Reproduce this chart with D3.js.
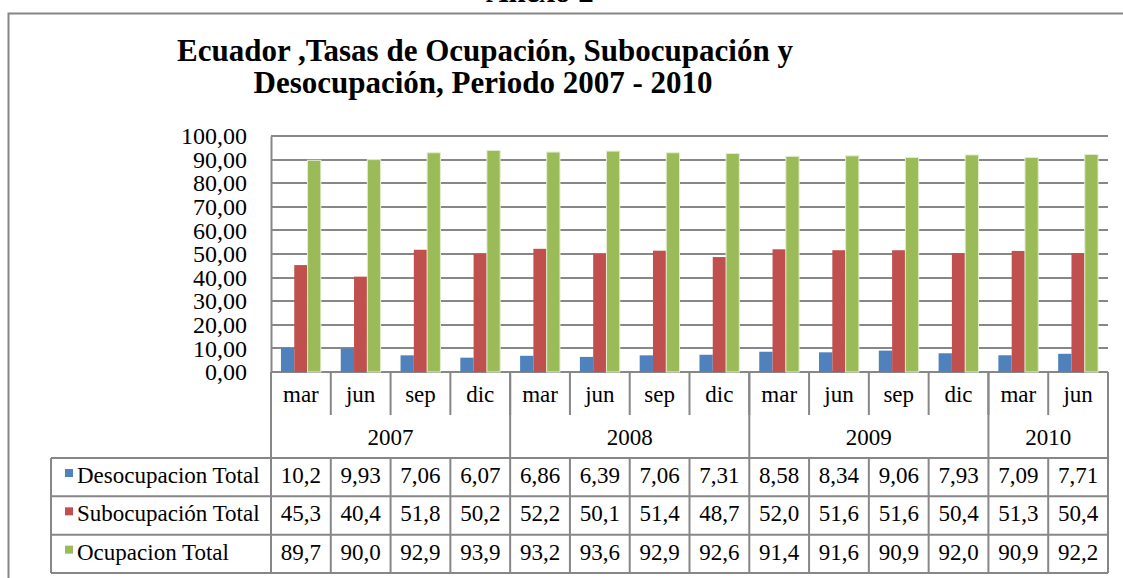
<html>
<head>
<meta charset="utf-8">
<title>Ecuador tasas</title>
<style>
  body { margin: 0; background: #fff; }
  text { font-family: "Liberation Serif", "Times New Roman", serif; fill: #000; }
</style>
</head>
<body>
<script src="https://d3js.org/d3.v7.min.js"></script>
<script>

// datos
var months = ["mar", "jun", "sep", "dic", "mar", "jun", "sep", "dic", "mar", "jun", "sep", "dic", "mar", "jun"];
var years = ["2007", "2008", "2009", "2010"];
var monthsPerYear = [4, 4, 4, 2];
var seriesNames = ["Desocupacion Total", "Subocupación Total", "Ocupacion Total"];
var desocupacion = [10.2, 9.93, 7.06, 6.07, 6.86, 6.39, 7.06, 7.31, 8.58, 8.34, 9.06, 7.93, 7.09, 7.71];
var subocupacion = [45.3, 40.4, 51.8, 50.2, 52.2, 50.1, 51.4, 48.7, 52.0, 51.6, 51.6, 50.4, 51.3, 50.4];
var ocupacion = [89.7, 90.0, 92.9, 93.9, 93.2, 93.6, 92.9, 92.6, 91.4, 91.6, 90.9, 92.0, 90.9, 92.2];
var yTicks = [0, 10, 20, 30, 40, 50, 60, 70, 80, 90, 100];
var colors = ["#4f81bd", "#c0504d", "#9bbb59"];

var series = [desocupacion, subocupacion, ocupacion];

var locale = d3.formatLocale({decimal: ",", thousands: ".", grouping: [3], currency: ["", ""]});
var fmtTick = locale.format(".2f");
var fmtVal = locale.format(".3r");

var W = 1123, H = 578;
var plotLeft = 271, plotRight = 1108, plotTop = 136, plotBottom = 372;
var gridColor = "#878787";

var svg = d3.select("body").append("svg")
    .attr("width", W)
    .attr("height", H);

// marco exterior
svg.append("path")
    .attr("d", "M8.5," + H + "V13.5H" + W)
    .attr("fill", "none")
    .attr("stroke", "#868686")
    .attr("stroke-width", 2);

svg.append("text")
    .attr("x", 486).attr("y", 2)
    .style("font-size", "31px").style("font-weight", "bold")
    .text("Anexo 2");

// titulo
var title = svg.append("text")
    .attr("text-anchor", "middle")
    .style("font-size", "31px").style("font-weight", "bold");
title.append("tspan").attr("x", 485).attr("y", 61).text("Ecuador ,Tasas de Ocupación, Subocupación y");
title.append("tspan").attr("x", 483).attr("y", 93).text("Desocupación, Periodo 2007 - 2010");

var x = d3.scaleBand()
    .domain(d3.range(months.length))
    .range([plotLeft, plotRight]);

var cw = x.bandwidth();
var barW = cw / 4.5;
var xs = d3.scaleBand()
    .domain(d3.range(series.length))
    .range([barW * 0.75, cw - barW * 0.75]);

var y = d3.scaleLinear()
    .domain([0, 100])
    .range([plotBottom, plotTop]);

// lineas de division
svg.append("g")
    .selectAll("line")
    .data(yTicks)
    .join("line")
    .attr("x1", plotLeft).attr("x2", plotRight)
    .attr("y1", function(d) { return Math.round(y(d)); })
    .attr("y2", function(d) { return Math.round(y(d)); })
    .attr("stroke", gridColor)
    .attr("stroke-width", 2);

// barras
series.forEach(function(vals, s) {
    svg.append("g")
        .selectAll("rect")
        .data(vals)
        .join("rect")
        .attr("x", function(d, i) { return x(i) + xs(s); })
        .attr("width", xs.bandwidth())
        .attr("y", function(d) { return y(d); })
        .attr("height", function(d) { return y(0) - y(d); })
        .attr("fill", colors[s])
        .attr("stroke", s == 2 ? "#e4eed2" : "none")
        .attr("stroke-width", 1);
});

// eje y
var yAxis = d3.axisLeft(y).tickValues(yTicks).tickSize(0).tickPadding(24).tickFormat(fmtTick);
var gy = svg.append("g")
    .attr("transform", "translate(" + plotLeft + ",0)")
    .call(yAxis);
gy.select(".domain").attr("stroke", gridColor).attr("stroke-width", 2);
gy.selectAll("text")
    .style("font-family", "'Liberation Serif', 'Times New Roman', serif")
    .style("font-size", "24px")
    .attr("fill", "#000");

// tabla de datos
var rowTop = 458, rowH = (573 - 458) / 3;
var tbl = svg.append("g")
    .attr("stroke", gridColor)
    .attr("stroke-width", 2);

// separadores de meses (marcas del eje)
tbl.selectAll("line.mes")
    .data(d3.range(1, months.length))
    .join("line")
    .attr("class", "mes")
    .attr("x1", function(i) { return x(i); })
    .attr("x2", function(i) { return x(i); })
    .attr("y1", plotBottom).attr("y2", 415);

// separadores de años
var yearStart = [0];
monthsPerYear.forEach(function(n, k) { yearStart.push(yearStart[k] + n); });
tbl.selectAll("line.anio")
    .data(yearStart)
    .join("line")
    .attr("class", "anio")
    .attr("x1", function(i) { return i < months.length ? x(i) : plotRight; })
    .attr("x2", function(i) { return i < months.length ? x(i) : plotRight; })
    .attr("y1", plotBottom).attr("y2", rowTop);

// lineas horizontales de la tabla
tbl.selectAll("line.fila")
    .data(d3.range(4))
    .join("line")
    .attr("class", "fila")
    .attr("x1", 51).attr("x2", plotRight)
    .attr("y1", function(r) { return rowTop + r * rowH; })
    .attr("y2", function(r) { return rowTop + r * rowH; });

// verticales de la tabla
var colEdges = [51].concat(d3.range(months.length).map(function(i) { return x(i); }), [plotRight]);
tbl.selectAll("line.col")
    .data(colEdges)
    .join("line")
    .attr("class", "col")
    .attr("x1", function(d) { return d; })
    .attr("x2", function(d) { return d; })
    .attr("y1", rowTop).attr("y2", rowTop + 3 * rowH);

// etiquetas de meses y años
svg.append("g")
    .selectAll("text")
    .data(months)
    .join("text")
    .attr("x", function(d, i) { return x(i) + cw / 2; })
    .attr("y", 402)
    .attr("text-anchor", "middle")
    .style("font-size", "23px")
    .text(function(d) { return d; });

svg.append("g")
    .selectAll("text")
    .data(years)
    .join("text")
    .attr("x", function(d, k) {
        return x(yearStart[k]) + monthsPerYear[k] * cw / 2;
    })
    .attr("y", 445)
    .attr("text-anchor", "middle")
    .style("font-size", "23px")
    .text(function(d) { return d; });

// filas de la serie
series.forEach(function(vals, s) {
    var ry = rowTop + s * rowH;
    svg.append("rect")
        .attr("x", 65).attr("y", ry + 11)
        .attr("width", 8).attr("height", 8)
        .attr("fill", colors[s]);
    svg.append("text")
        .attr("x", 77).attr("y", ry + 25)
        .style("font-size", "23px")
        .text(seriesNames[s]);
    svg.append("g")
        .selectAll("text")
        .data(vals)
        .join("text")
        .attr("x", function(d, i) { return x(i) + cw / 2; })
        .attr("y", ry + 25)
        .attr("text-anchor", "middle")
        .style("font-size", "23px")
        .text(function(d) { return fmtVal(d); });
});

</script>
</body>
</html>
